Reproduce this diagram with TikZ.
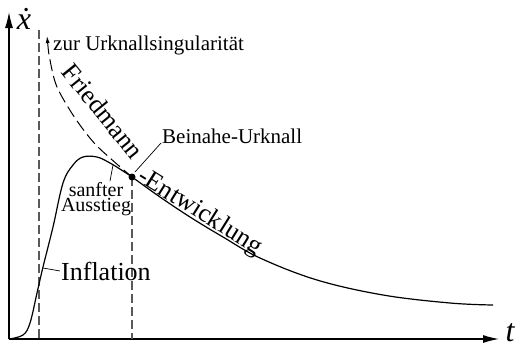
\documentclass[tikz,border=0pt]{standalone}
\usepackage{fontspec}
\setmainfont{Liberation Serif}
\usetikzlibrary{arrows.meta,positioning}

\begin{document}
\begin{tikzpicture}[x=1pt,y=-1pt,
ax/.style={line width=1.2pt,-{Latex[length=16pt,width=8pt]}},
guide/.style={gray!70!black,line width=1.2pt,dash pattern=on 9pt off 4pt},
curve/.style={line width=1.2pt},
fried/.style={line width=1pt,dash pattern=on 12pt off 5pt,{Latex[length=7pt,width=4pt]}-},
lead/.style={line width=.7pt},
big/.style={font=\fontsize{26}{28}\selectfont,inner sep=1pt},
small/.style={font=\fontsize{21}{22}\selectfont,inner sep=1pt}]
\useasboundingbox (0,0) rectangle (518,348);
% axes
\coordinate (o) at (9,339);
\coordinate (ytop) at (9,12);
\coordinate (xend) at (499,339);
\draw[ax](o)--(ytop);
\draw[ax](o)--(xend);
\node[font=\fontsize{32}{34}\selectfont\itshape](xlab) at (24,19){\.{x}};
\node[font=\fontsize{32}{34}\selectfont\itshape](tlab) at (510,333){t};
% dashed guides
\coordinate (g1) at (39,30);
\coordinate (near) at (132,177);
\draw[guide](g1)--(g1|-o);
\draw[guide](near)--(near|-o);
% curves
\draw[curve] plot[smooth,tension=.6] coordinates{(9,339)(23,335)(30,323)(37,293)(43,267)(53,227)(63,183)(73,165)(83,157)(97,157)(110,163)(123,171)(132,177)(160,197)(190,217)(223,237)(260,258)(317,280)(383,295)(450,303)(493,305)};
\draw[fried] plot[smooth] coordinates{(47,36)(50,60)(57,87)(75,118)(97,146)(132,177)};
\fill (near) circle (3.5pt);
% labels
\node[small,anchor=base west](sing) at (52,50){zur Urknallsingularität};
\node[small,anchor=base west](beinahe) at (161,143){Beinahe-Urknall};
\coordinate (bn) at (135,172);
\draw[lead](bn)--(beinahe.base west);
\node[font=\fontsize{20}{15}\selectfont,align=center,inner sep=1pt](ausstieg) at (96,199){sanfter\\Ausstieg};
\coordinate (sa) at (113,165);
\draw[lead](sa)--([xshift=14pt]ausstieg.north);
\node[big,anchor=base west](infl) at (60,280){Inflation};
\coordinate (inf) at (43,268);
\draw[lead](inf)--(infl.west);
\node[big,rotate=-51](friedmann) at (103,111){Friedmann};
\node[big,rotate=-32,anchor=base west,inner sep=0pt](entw) at (136,180){-Entwicklung};
\end{tikzpicture}
\end{document}
